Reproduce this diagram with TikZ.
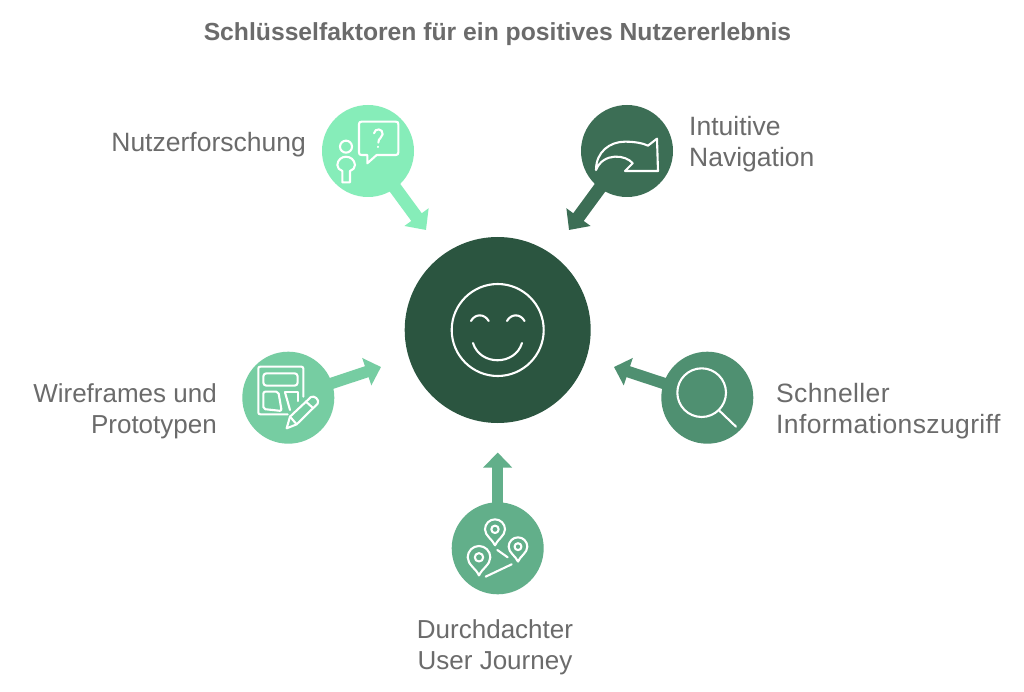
\documentclass[tikz,border=0pt]{standalone}
\usepackage{fontspec}
\setmainfont{Liberation Sans}
\usetikzlibrary{arrows.meta}
\definecolor{cA}{HTML}{86EDB9}
\definecolor{cB}{HTML}{3C6E55}
\definecolor{cC}{HTML}{76CDA2}
\definecolor{cD}{HTML}{4F9071}
\definecolor{cE}{HTML}{62AF8A}
\definecolor{cF}{HTML}{2B5540}
\definecolor{txt}{HTML}{6B6B6B}
\tikzset{
  x=1pt,y=-1pt,
  hub/.style={circle,inner sep=0pt,minimum size=186pt,fill=cF},
  spot/.style={circle,inner sep=0pt,minimum size=92pt,fill=#1},
  feed/.style={draw=#1,line width=11.5pt,shorten <=-2pt,-{Triangle[length=15pt,width=28pt]}},
  feedwide/.style={draw=#1,line width=13pt,shorten <=-2pt,-{Triangle[length=16pt,width=29pt]}},
  icon/.style={draw=white,line width=2.1pt,line join=round,line cap=round},
  lab/.style={inner sep=0pt,text=txt,font=\fontsize{26.5}{31}\selectfont},
  zoomed/.style={shift={#1},x=.3333pt,y=-.3333pt}
}
\newcommand{\pinmark}[3]{%
  \begin{scope}[shift={(#1,#2)},scale=#3]
    \draw[icon] (0,1.6) .. controls (-.25,1) and (-1,.65) .. (-1,0)
      .. controls (-1,-.55) and (-.55,-1) .. (0,-1)
      .. controls (.55,-1) and (1,-.55) .. (1,0)
      .. controls (1,.65) and (.25,1) .. cycle;
    \draw[icon] (0,0) circle[radius=.37];
  \end{scope}}
\begin{document}
\begin{tikzpicture}
\useasboundingbox (0,0) rectangle (1024,692);
\fill[white] (0,0) rectangle (1024,692);

\node[inner sep=0pt,text=txt,font=\fontsize{24.7}{30}\selectfont\bfseries] (title) at (497.5,34) {Schlüsselfaktoren für ein positives Nutzererlebnis};

\node[hub] (center) at (497.7,330) {};
\node[spot=cA] (n1) at (368,151) {};
\node[spot=cB] (n2) at (627,151) {};
\node[spot=cC] (n3) at (288.3,397.7) {};
\node[spot=cD] (n4) at (707.3,397.7) {};
\node[spot=cE] (n5) at (497.7,548.3) {};

\coordinate (t1) at (426,230);
\coordinate (t2) at (569,230);
\coordinate (t3) at (381,367);
\coordinate (t4) at (614,367);
\coordinate (t5) at (497.7,452.5);
\draw[feedwide=cA] (n1) -- (t1);
\draw[feedwide=cB] (n2) -- (t2);
\draw[feed=cC] (n3) -- (t3);
\draw[feed=cD] (n4) -- (t4);
\draw[feed=cE] (n5) -- (t5);

% smiley
\draw[icon] (center.center) circle[radius=46];
\draw[icon] (471,321) .. controls (475,313.5) and (484.5,313.5) .. (488.7,321);
\draw[icon] (507,321) .. controls (511,313.5) and (520.5,313.5) .. (524.5,321);
\draw[icon] (473,343) .. controls (480,366) and (515,366) .. (522,343);

% person and speech bubble
\begin{scope}[zoomed={(310,95)}]
  \draw[icon] (108,155) circle[radius=18];
  \draw[icon] (97,262) -- (97,228) .. controls (88,224) and (82,220) .. (82,210)
     .. controls (84,177) and (132,177) .. (135,210)
     .. controls (135,220) and (129,224) .. (120,228) -- (120,262) -- cycle;
  \draw[icon] (172,180) -- (155,180) .. controls (149,180) and (147,178) .. (147,172)
     -- (147,88) .. controls (147,82) and (149,80) .. (155,80)
     -- (257,80) .. controls (263,80) and (265,82) .. (265,88)
     -- (265,172) .. controls (265,178) and (263,180) .. (257,180)
     -- (200,180) -- (172,205) -- cycle;
  \draw[icon] (192,115) .. controls (194,98) and (220,100) .. (218,118)
     .. controls (217,130) and (205,128) .. (205,143);
  \draw[icon] (205,155) -- (205,156);
\end{scope}

% navigation arrow
\begin{scope}[zoomed={(560,95)}]
  \draw[icon] (108,225) .. controls (108,170) and (150,140) .. (195,140)
     .. controls (225,140) and (250,145) .. (264,152)
     -- (291,131) -- (294,228) -- (195,228) -- (218,205)
     .. controls (200,180) and (130,170) .. (108,225) -- cycle;
\end{scope}

% wireframe and pencil
\begin{scope}[zoomed={(235,345)}]
  \draw[icon] (158,208) -- (76,208) .. controls (72,208) and (70,206) .. (70,202)
     -- (70,71) .. controls (70,67) and (72,65) .. (76,65)
     -- (199,65) .. controls (203,65) and (205,67) .. (205,71) -- (205,155);
  \draw[icon,rounded corners=3pt] (85,85) rectangle (188,122);
  \draw[icon,rounded corners=2pt] (85,140) -- (130,140) -- (140,198) -- (85,192) -- cycle;
  \draw[icon] (150,142) -- (188,142) -- (188,168);
  \draw[icon] (150,142) -- (165,195);
  \draw[icon] (155,250) -- (165,215) -- (228,156) .. controls (238,150) and (255,165) .. (248,176)
     -- (185,238) -- cycle;
  \draw[icon] (165,215) -- (185,238);
  \draw[icon] (213,170) -- (235,190);
\end{scope}

% magnifier
\begin{scope}[zoomed={(605,345)}]
  \draw[icon] (290,143) circle[radius=73];
  \draw[icon] (343,197) -- (393,245);
\end{scope}

% map pins
\begin{scope}[zoomed={(440,445)}]
  \pinmark{165}{253}{30}
  \pinmark{234}{305}{28}
  \pinmark{117}{337}{34}
  \draw[icon] (172,315) -- (203,337);
  \draw[icon] (137,395) -- (215,358);
\end{scope}

\node[lab,anchor=east] (l1) at (306,144.5) {Nutzerforschung};
\node[lab,anchor=west,align=left] (l2) at (689,144.5) {Intuitive\\Navigation};
\node[lab,anchor=east,align=right,font=\fontsize{26}{31}\selectfont] (l3) at (217,411.5) {Wireframes und\\Prototypen};
\node[lab,anchor=west,align=left,font=\fontsize{26.5}{31}\selectfont\addfontfeature{LetterSpace=1.4}] (l4) at (776,411) {Schneller\\Informationszugriff};
\node[lab,align=center,font=\fontsize{26}{31}\selectfont] (l5) at (495,647) {Durchdachter\\User Journey};
\end{tikzpicture}
\end{document}
